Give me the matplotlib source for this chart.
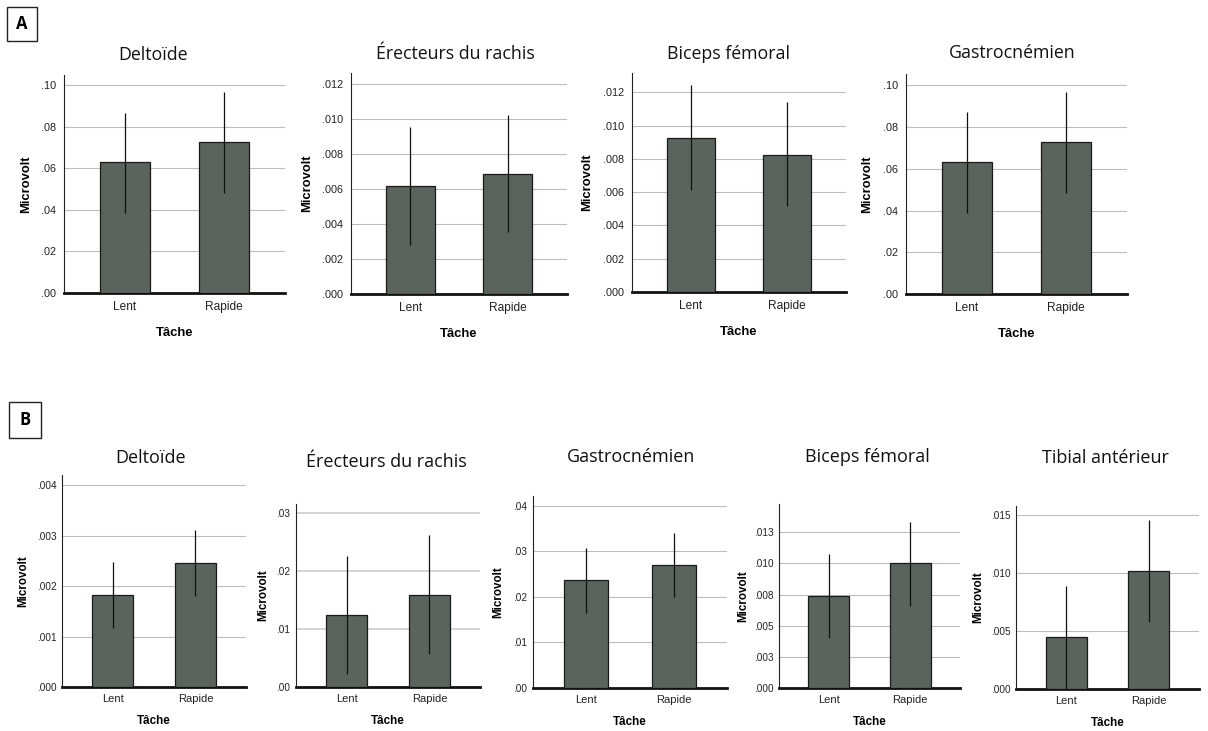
import matplotlib
matplotlib.use('Agg')
from matplotlib import pyplot as plt
from matplotlib.patches import Rectangle

W, H = 1208, 731

taches = ['Lent', 'Rapide']

# Partie A : tâche de levage
delt_a_mean = [0.0630, 0.0727]
delt_a_low = [0.0385, 0.0484]
delt_a_high = [0.0866, 0.0966]
erec_a_mean = [0.00615, 0.00688]
erec_a_low = [0.00278, 0.00352]
erec_a_high = [0.00954, 0.01021]
bicf_a_mean = [0.00926, 0.00826]
bicf_a_low = [0.00615, 0.00515]
bicf_a_high = [0.01242, 0.01142]
gast_a_mean = [0.0632, 0.0728]
gast_a_low = [0.0387, 0.0483]
gast_a_high = [0.0870, 0.0966]

# Partie B
delt_b_mean = [0.00183, 0.00246]
delt_b_low = [0.00116, 0.00180]
delt_b_high = [0.00248, 0.00312]
erec_b_mean = [0.01247, 0.01586]
erec_b_low = [0.00218, 0.00575]
erec_b_high = [0.02253, 0.02610]
gast_b_mean = [0.02359, 0.02703]
gast_b_low = [0.01648, 0.02000]
gast_b_high = [0.03077, 0.03399]
bicf_b_mean = [0.00737, 0.01000]
bicf_b_low = [0.00400, 0.00662]
bicf_b_high = [0.01074, 0.01335]
tib_b_mean = [0.00445, 0.01015]
tib_b_low = [0.0, 0.00574]
tib_b_high = [0.00889, 0.01457]

ticks_02 = [0.0, 0.02, 0.04, 0.06, 0.08, 0.10]
labels_02 = ['.00', '.02', '.04', '.06', '.08', '.10']
ticks_002 = [0.0, 0.002, 0.004, 0.006, 0.008, 0.010, 0.012]
labels_002 = ['.000', '.002', '.004', '.006', '.008', '.010', '.012']
ticks_001 = [0.0, 0.001, 0.002, 0.003, 0.004]
labels_001 = ['.000', '.001', '.002', '.003', '.004']
ticks_01 = [0.0, 0.01, 0.02, 0.03]
labels_01 = ['.00', '.01', '.02', '.03']
ticks_01b = [0.0, 0.01, 0.02, 0.03, 0.04]
labels_01b = ['.00', '.01', '.02', '.03', '.04']
ticks_0025 = [0.0, 0.0025, 0.005, 0.0075, 0.010, 0.0125]
labels_0025 = ['.000', '.003', '.005', '.008', '.010', '.013']
ticks_005 = [0.0, 0.005, 0.010, 0.015]
labels_005 = ['.000', '.005', '.010', '.015']

BAR = '#5b635e'
TITLE_FONT = 'Open Sans'
SPSS_FONT = 'Liberation Sans'

fig = plt.figure(figsize=(W / 100, H / 100), dpi=100)


def px_rect(x0, y0, x1, y1):
    return [x0 / W, 1 - y1 / H, (x1 - x0) / W, (y1 - y0) / H]


def panel(box, title, mean, low, high, ticks, labels, ytop, title_xy, ylab_x,
          small=False, grid_col='#bdbdbd', grid_lw=0.8):
    x0, y0, x1, y1 = box
    ax = fig.add_axes(px_rect(x0, y0, x1, y1))
    xs = range(len(taches))
    ax.bar(xs, mean, width=0.5, color=BAR, edgecolor='#1a1a1a', linewidth=0.9, zorder=3)
    for x, m, lo, hi in zip(xs, mean, low, high):
        ax.vlines(x, lo, hi, color='#111111', linewidth=0.9, zorder=4)
    ax.set_xlim(-0.61, 1.61)
    ax.set_ylim(0, ytop)
    ax.set_yticks(ticks)
    ytick_fs = 7.2 if small else 7.8
    xtick_fs = 8.0 if small else 8.6
    ax.set_yticklabels(labels, fontsize=ytick_fs, family=SPSS_FONT, color='#222222')
    ax.set_xticks(list(xs))
    ax.set_xticklabels(taches, fontsize=xtick_fs, family=SPSS_FONT, color='#222222')
    ax.tick_params(axis='y', length=0, pad=4 if small else 6)
    ax.tick_params(axis='x', length=0, pad=5 if small else 6)
    ax.grid(axis='y', color=grid_col, linewidth=grid_lw, zorder=0)
    ax.set_axisbelow(True)
    for s in ('top', 'right'):
        ax.spines[s].set_visible(False)
    ax.spines['left'].set_linewidth(0.8)
    ax.spines['left'].set_color('#222222')
    ax.spines['bottom'].set_linewidth(2.0)
    ax.spines['bottom'].set_color('#111111')

    lab_fs = 8.4 if small else 9.4
    fig.text(title_xy[0] / W, 1 - title_xy[1] / H, title, family=TITLE_FONT,
             fontsize=13 if small else 12.8, ha='center', va='center', color='#111111')
    yc = (y0 + y1) / 2
    fig.text(ylab_x / W, 1 - yc / H, 'Microvolt', rotation=90, family=SPSS_FONT,
             fontweight='bold', fontsize=lab_fs, ha='center', va='center')
    xl_y = y1 + (34 if small else 40)
    fig.text((x0 + x1) / 2 / W, 1 - xl_y / H, 'Tâche', family=SPSS_FONT,
             fontweight='bold', fontsize=lab_fs, ha='center', va='center')
    return ax


# ligne A
panel((64, 75, 285, 293), 'Deltoïde', delt_a_mean, delt_a_low, delt_a_high,
      ticks_02, labels_02, 0.105, (153, 55), 26)
panel((351, 73, 567, 294), 'Érecteurs du rachis', erec_a_mean, erec_a_low, erec_a_high,
      ticks_002, labels_002, 0.01263, (455, 54), 307)
panel((632, 73, 846, 292), 'Biceps fémoral', bicf_a_mean, bicf_a_low, bicf_a_high,
      ticks_002, labels_002, 0.01317, (729, 54), 587)
panel((906, 74, 1127, 294), 'Gastrocnémien', gast_a_mean, gast_a_low, gast_a_high,
      ticks_02, labels_02, 0.1054, (1012, 53), 867)

# ligne B
panel((62, 475, 246, 687), 'Deltoïde', delt_b_mean, delt_b_low, delt_b_high,
      ticks_001, labels_001, 0.0042, (151, 458), 23, small=True)
panel((296, 504, 480, 687), 'Érecteurs du rachis', erec_b_mean, erec_b_low, erec_b_high,
      ticks_01, labels_01, 0.0315, (386, 462), 263, small=True,
      grid_col='#d4d4d4', grid_lw=1.4)
panel((533, 496, 727, 688), 'Gastrocnémien', gast_b_mean, gast_b_low, gast_b_high,
      ticks_01b, labels_01b, 0.0421, (631, 457), 498, small=True)
panel((779, 504, 960, 688), 'Biceps fémoral', bicf_b_mean, bicf_b_low, bicf_b_high,
      ticks_0025, labels_0025, 0.01477, (867, 457), 743, small=True)
panel((1016, 506, 1199, 689), 'Tibial antérieur', tib_b_mean, tib_b_low, tib_b_high,
      ticks_005, labels_005, 0.01578, (1105, 458), 978, small=True)

# encadrés A / B
for letter, (bx0, by0, bx1, by1) in (('A', (7, 7, 37, 41)), ('B', (9, 402, 41, 438))):
    fig.add_artist(Rectangle((bx0 / W, 1 - by1 / H), (bx1 - bx0) / W, (by1 - by0) / H,
                             transform=fig.transFigure, facecolor='white',
                             edgecolor='#222222', linewidth=1.0))
    fig.text((bx0 + bx1) / 2 / W, 1 - (by0 + by1) / 2 / H, letter, family=TITLE_FONT,
             fontweight='bold', fontsize=12, ha='center', va='center')

fig.savefig('out.png', dpi=100)
